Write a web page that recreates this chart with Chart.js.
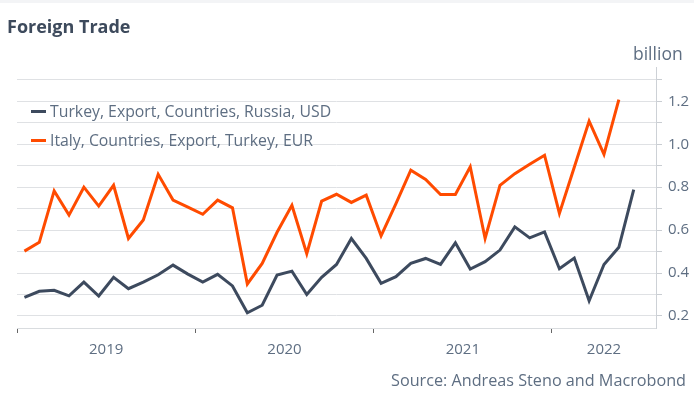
<!DOCTYPE html>
<html><head><meta charset="utf-8">
<script src="https://cdn.jsdelivr.net/npm/chart.js@4"></script>
<style>
html,body{margin:0;padding:0;background:#fff;}
#wrap{position:relative;width:694px;height:399px;overflow:hidden;font-family:'Open Sans',sans-serif;background:#fff;}
#topbar{position:absolute;left:0;top:0;width:694px;height:3px;background:#f3f4f6;}
#chart{position:absolute;left:0;top:0;}
.txt{position:absolute;white-space:nowrap;line-height:1;}
#title{left:7px;top:17px;font-size:18px;font-weight:700;color:#3d4a5c;}
#unit{left:633px;top:44.5px;font-size:17.5px;color:#5e6e82;}
#source{right:8px;top:371.5px;font-size:16.2px;color:#5e6e82;}
.leg{position:absolute;left:31px;font-size:15.8px;color:#5e6e82;white-space:nowrap;line-height:1;}
.leg i{position:absolute;left:0;width:15px;height:3px;}
.leg span{position:absolute;left:19px;top:0;}
</style></head>
<body>
<div id="wrap">
  <div id="topbar"></div>
  <canvas id="chart" width="694" height="399"></canvas>
  <div id="title" class="txt">Foreign Trade</div>
  <div id="unit" class="txt">billion</div>
  <div id="source" class="txt">Source: Andreas Steno and Macrobond</div>
  <div id="legend"></div>
</div>
<script>
// Monthly categories (mid-month positions on the time axis)
const months = ['2019-01','2019-02','2019-03','2019-04','2019-05','2019-06','2019-07','2019-08','2019-09','2019-10','2019-11','2019-12',
  '2020-01','2020-02','2020-03','2020-04','2020-05','2020-06','2020-07','2020-08','2020-09','2020-10','2020-11','2020-12',
  '2021-01','2021-02','2021-03','2021-04','2021-05','2021-06','2021-07','2021-08','2021-09','2021-10','2021-11','2021-12',
  '2022-01','2022-02','2022-03','2022-04','2022-05','2022-06'];

const seriesNames = ['Turkey, Export, Countries, Russia, USD', 'Italy, Countries, Export, Turkey, EUR'];
const seriesColors = ['#3d4a5e', '#ff4b00'];

const turkeyToRussia = [0.287,0.315,0.32,0.294,0.358,0.293,0.38,0.327,0.358,0.392,0.437,0.395,
  0.358,0.394,0.34,0.215,0.25,0.391,0.409,0.30,0.38,0.44,0.561,0.468,
  0.352,0.383,0.445,0.468,0.44,0.541,0.419,0.453,0.507,0.615,0.564,0.592,
  0.42,0.47,0.271,0.44,0.52,0.789];

const italyToTurkey = [0.502,0.543,0.783,0.670,0.800,0.712,0.809,0.561,0.647,0.860,0.740,0.707,
  0.674,0.740,0.704,0.349,0.445,0.59,0.716,0.49,0.735,0.767,0.729,0.763,
  0.573,0.724,0.879,0.836,0.766,0.766,0.895,0.561,0.809,0.863,0.907,0.949,
  0.678,0.893,1.108,0.953,1.208];

const yearLabels = ['2019','2020','2021','2022'];
const yTickValues = [0.2,0.3,0.4,0.5,0.6,0.7,0.8,0.9,1.0,1.1,1.2,1.3];

const axisStartYear = 2019;
const axisMonths = 43; // Jan 2019 .. end of Jul 2022

function monthPos(s){ const [y,m] = s.split('-').map(Number); return (y-axisStartYear)*12 + (m-1) + 0.5; }
function toPoints(vals){ return vals.map((v,i)=>({x: monthPos(months[i]), y: v})); }

// year boundaries and label centers
const yearStarts = yearLabels.map((y,i)=> i*12);
const yearCenters = yearLabels.map((y,i)=> { const s=i*12, e=Math.min(s+12, axisMonths); return (s+e)/2; });
const xTickValues = [...yearStarts, ...yearCenters].sort((a,b)=>a-b);

// HTML legend
const legEl = document.getElementById('legend');
const legTops = [104.3, 132.5];
seriesNames.forEach((n,i)=>{
  const d = document.createElement('div'); d.className='leg'; d.style.top = legTops[i]+'px';
  d.innerHTML = '<i style="background:'+seriesColors[i]+';top:6px"></i><span>'+n+'</span>';
  legEl.appendChild(d);
});

const FONT = "'Open Sans', sans-serif";
const TXT = '#5e6e82';

new Chart(document.getElementById('chart'), {
  type: 'line',
  data: {
    datasets: [
      {label: seriesNames[0], data: toPoints(turkeyToRussia), borderColor: seriesColors[0], borderWidth: 3, pointRadius: 0, tension: 0, fill:false},
      {label: seriesNames[1], data: toPoints(italyToTurkey), borderColor: seriesColors[1], borderWidth: 3, pointRadius: 0, tension: 0, fill:false}
    ]
  },
  options: {
    responsive: false,
    animation: false,
    devicePixelRatio: 1,
    layout: {padding: {left: 17, top: 67, right: 0, bottom: 0}},
    plugins: {legend: {display: false}, tooltip: {enabled: false}, title:{display:false}},
    scales: {
      x: {
        type: 'linear', min: 0, max: axisMonths, offset: false,
        afterBuildTicks: s => { s.ticks = xTickValues.map(v=>({value:v})); },
        afterFit: s => { s.height = 71; },
        grid: {drawOnChartArea: false, drawTicks: true, tickLength: 5,
          color: ctx => (ctx.tick && yearStarts.includes(ctx.tick.value)) ? '#666' : 'rgba(0,0,0,0)'},
        border: {display: true, color: '#d9dcdf', width: 1},
        ticks: {autoSkip: false, maxRotation: 0, padding: 8, color: TXT, font: {family: FONT, size: 15},
          callback: v => { const k = yearCenters.indexOf(v); return k>=0 ? yearLabels[k] : ''; }}
      },
      y: {
        position: 'right', min: 0.144, max: 1.36,
        afterBuildTicks: s => { s.ticks = yTickValues.map(v=>({value:v})); },
        afterFit: s => { s.width = 38; },
        grid: {color: '#dfe1e4', lineWidth: 1, tickLength: 6, tickColor: '#c9cdd2'},
        border: {display: true, color: '#cdd1d6', width: 1},
        ticks: {padding: 6, color: TXT, font: {family: FONT, size: 15},
          callback: v => (Math.round(v*10) % 2 === 0) ? v.toFixed(1) : ''}
      }
    }
  }
});
</script>
</body></html>
